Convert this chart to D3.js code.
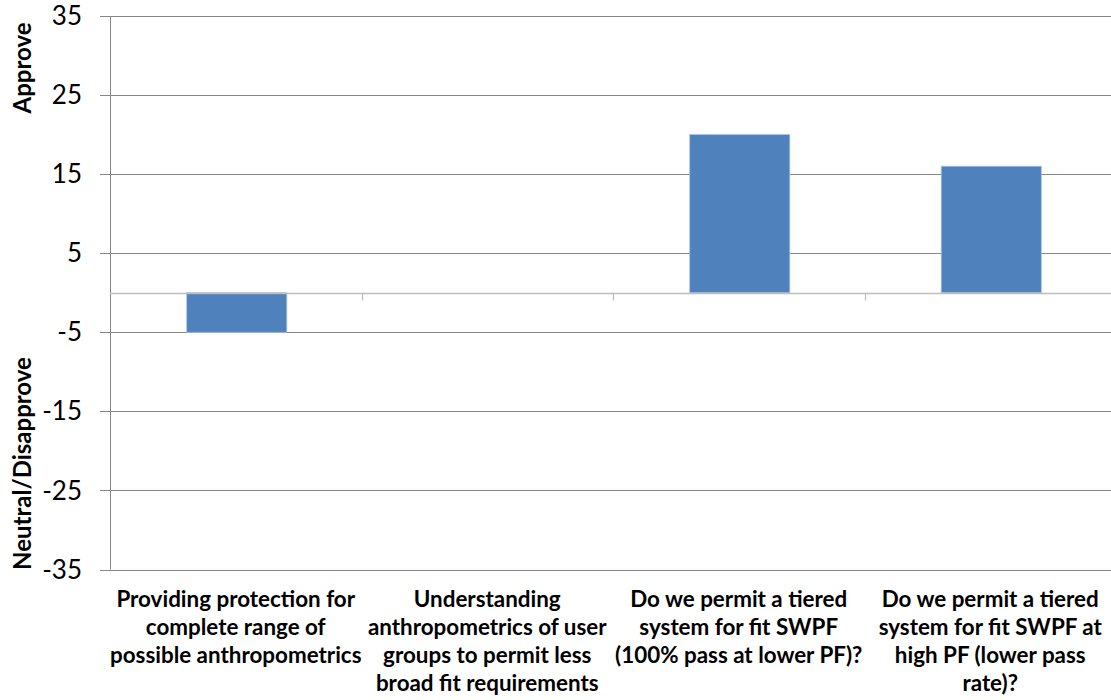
<!DOCTYPE html>
<html>
<head>
<meta charset="utf-8">
<script src="https://cdn.jsdelivr.net/npm/d3@7"></script>
<style>
  html, body { margin: 0; padding: 0; background: #ffffff; }
  svg { display: block; font-family: Lato, "Open Sans", sans-serif; }
</style>
</head>
<body>
<svg id="chart" width="1111" height="700"></svg>
<script>
// Survey questions (line breaks as they wrap under the axis)
const categories = [
  "Providing protection for\ncomplete range of\npossible anthropometrics",
  "Understanding\nanthropometrics of user\ngroups to permit less\nbroad fit requirements",
  "Do we permit a tiered\nsystem for fit SWPF\n(100% pass at lower PF)?",
  "Do we permit a tiered\nsystem for fit SWPF at\nhigh PF (lower pass\nrate)?"
];
// Net score per question
const values = [-5, 0, 20, 16];
// Value-axis ticks
const yTicks = [35, 25, 15, 5, -5, -15, -25, -35];
const yTitleTop = "Approve";
const yTitleBottom = "Neutral/Disapprove";

const svg = d3.select("#chart");
const plot = { left: 110, right: 1116, top: 16, bottom: 569.5 };

const x = d3.scaleBand()
  .domain(d3.range(categories.length))
  .range([plot.left, plot.right])
  .paddingInner(0)
  .paddingOuter(0);

const y = d3.scaleLinear()
  .domain([-35, 35])
  .range([plot.bottom, plot.top]);

const gridColor = "#868686";
const zeroColor = "#bdbdbd";

// Horizontal gridlines, each starting 10px left of the axis as a tick stub
svg.append("g").selectAll("line.grid")
  .data(yTicks)
  .join("line")
  .attr("class", "grid")
  .attr("x1", plot.left - 10)
  .attr("x2", plot.right)
  .attr("y1", d => Math.round(y(d)) + 0.5)
  .attr("y2", d => Math.round(y(d)) + 0.5)
  .attr("stroke", gridColor)
  .attr("stroke-width", 1);

// Tick labels (plain hyphen for negatives)
svg.append("g").selectAll("text.ytick")
  .data(yTicks)
  .join("text")
  .attr("class", "ytick")
  .attr("x", 82)
  .attr("y", d => y(d))
  .attr("dy", "0.35em")
  .attr("text-anchor", "end")
  .attr("font-size", 26)
  .attr("fill", "#000")
  .text(d => String(d));

// Vertical value axis line
svg.append("line")
  .attr("x1", plot.left + 0.5).attr("x2", plot.left + 0.5)
  .attr("y1", plot.top).attr("y2", plot.bottom)
  .attr("stroke", gridColor)
  .attr("stroke-width", 1);

// Bars
svg.append("g").selectAll("rect.bar")
  .data(values.map((v, i) => ({ v, i })).filter(d => d.v !== 0))
  .join("rect")
  .attr("class", "bar")
  .attr("x", d => x(d.i) + x.bandwidth() * 0.305)
  .attr("width", x.bandwidth() * 0.398)
  .attr("y", d => y(Math.max(0, d.v)))
  .attr("height", d => Math.abs(y(d.v) - y(0)))
  .attr("fill", "#4f81bd")
  .attr("stroke", "#a9c0de")
  .attr("stroke-width", 0.8);

// Category axis along zero with downward ticks at band boundaries
const zeroY = Math.round(y(0)) + 0.5;
svg.append("line")
  .attr("x1", plot.left).attr("x2", plot.right)
  .attr("y1", zeroY).attr("y2", zeroY)
  .attr("stroke", zeroColor)
  .attr("stroke-width", 1.6);
svg.append("g").selectAll("line.ctick")
  .data(d3.range(1, categories.length + 1))
  .join("line")
  .attr("class", "ctick")
  .attr("x1", i => Math.round(x(0) + i * x.bandwidth()) + 0.5)
  .attr("x2", i => Math.round(x(0) + i * x.bandwidth()) + 0.5)
  .attr("y1", zeroY)
  .attr("y2", zeroY + 7)
  .attr("stroke", zeroColor)
  .attr("stroke-width", 1.2);

// Category labels below the plot
const catG = svg.append("g").selectAll("text.cat")
  .data(categories)
  .join("text")
  .attr("class", "cat")
  .attr("text-anchor", "middle")
  .attr("font-size", 22.4)
  .attr("font-weight", "bold")
  .attr("fill", "#000");
catG.selectAll("tspan")
  .data((d, i) => d.split("\n").map(line => ({ line, i })))
  .join("tspan")
  .attr("x", d => x(d.i) + x.bandwidth() / 2)
  .attr("y", (d, k) => 607 + k * 28)
  .text(d => d.line);

// Axis titles
svg.append("text")
  .attr("transform", `translate(31,${(21 + 115) / 2}) rotate(-90)`)
  .attr("text-anchor", "middle")
  .attr("font-size", 24)
  .attr("font-weight", "bold")
  .text(yTitleTop);
svg.append("text")
  .attr("transform", `translate(31,${(355 + 572) / 2}) rotate(-90)`)
  .attr("text-anchor", "middle")
  .attr("font-size", 24)
  .attr("font-weight", "bold")
  .text(yTitleBottom);
</script>
</body>
</html>
